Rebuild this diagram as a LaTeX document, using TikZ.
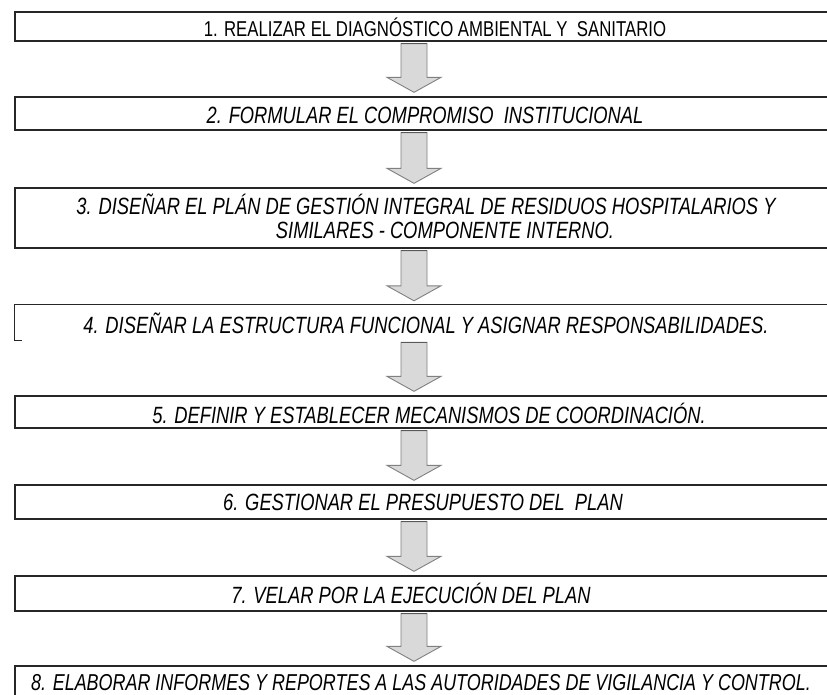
\documentclass[tikz,border=0pt]{standalone}
\usepackage{fontspec}
\setmainfont{Liberation Sans}[FakeStretch=0.78]
\usetikzlibrary{calc}
\tikzset{
  stepbox/.style={draw=black!85, line width=1.3pt, minimum width=820pt, inner sep=0pt, anchor=center},
  openbox/.style={minimum width=820pt, inner sep=0pt, anchor=center},
  lbl/.style={inner sep=0pt, font=\fontsize{23.5}{27}\selectfont\itshape, align=center},
  lblup/.style={inner sep=0pt, font=\fontsize{21.5}{25}\selectfont, align=center},
  blockarr/.style={fill=black!15, draw=black!50, line width=0.9pt, line join=miter},
}
\newcommand{\blockarrow}[2]{%
  \filldraw[blockarr] let \p1=(#1.south), \p2=(#2.north) in
    (401pt,\y1-2pt) -- (427pt,\y1-2pt) -- (427pt,\y2+19pt) -- (441pt,\y2+19pt)
    -- (414pt,\y2+4pt) -- (387pt,\y2+19pt) -- (401pt,\y2+19pt) -- cycle;
  \draw[black!65, line width=1.3pt] let \p1=(#1.south) in (401pt,\y1-2pt) -- (427pt,\y1-2pt);
}
\begin{document}
\begin{tikzpicture}[x=1pt,y=-1pt]
\useasboundingbox (0,0) rectangle (827,695);
\fill[white] (0,0) rectangle (827,695);
% boxes
\node[stepbox, minimum height=29pt] (b1) at (425,26.5) {};
\node[stepbox, minimum height=33pt] (b2) at (425,113.5) {};
\node[stepbox, minimum height=60pt] (b3) at (425,218) {};
\node[openbox, minimum height=35pt] (b4) at (425,322.5) {};
\draw[black!85, line width=1.3pt] (b4.north east) -- (b4.north west) -- (b4.south west) -- ++(7,0);
\node[stepbox, minimum height=32pt] (b5) at (425,412) {};
\node[stepbox, minimum height=34pt] (b6) at (425,502) {};
\node[stepbox, minimum height=35pt] (b7) at (425,593.5) {};
\node[stepbox, minimum height=48pt] (b8) at (425,690) {};
% texts
\node[lblup] (t1) at (435,27) {1. REALIZAR EL DIAGNÓSTICO AMBIENTAL Y \ SANITARIO};
\node[lbl] (t2) at (425,115) {2. FORMULAR EL COMPROMISO \ INSTITUCIONAL};
\node[lbl] (t3a) at (426,204) {3. DISEÑAR EL PLÁN DE GESTIÓN INTEGRAL DE RESIDUOS HOSPITALARIOS Y};
\node[lbl] (t3b) at (445,230) {SIMILARES - COMPONENTE INTERNO.};
\node[lbl] (t4) at (426,323) {4. DISEÑAR LA ESTRUCTURA FUNCIONAL Y ASIGNAR RESPONSABILIDADES.};
\node[lbl] (t5) at (429,413) {5. DEFINIR Y ESTABLECER MECANISMOS DE COORDINACIÓN.};
\node[lbl] (t6) at (423,502) {6. GESTIONAR EL PRESUPUESTO DEL \ PLAN};
\node[lbl] (t7) at (411,593) {7. VELAR POR LA EJECUCIÓN DEL PLAN};
\node[lbl, font=\fontsize{23}{26}\selectfont\itshape] (t8) at (421,683) {8. ELABORAR INFORMES Y REPORTES A LAS AUTORIDADES DE VIGILANCIA Y CONTROL.};
% arrows
\blockarrow{b1}{b2}
\blockarrow{b2}{b3}
\blockarrow{b3}{b4}
\blockarrow{b4}{b5}
\blockarrow{b5}{b6}
\blockarrow{b6}{b7}
\blockarrow{b7}{b8}
\end{tikzpicture}
\end{document}
